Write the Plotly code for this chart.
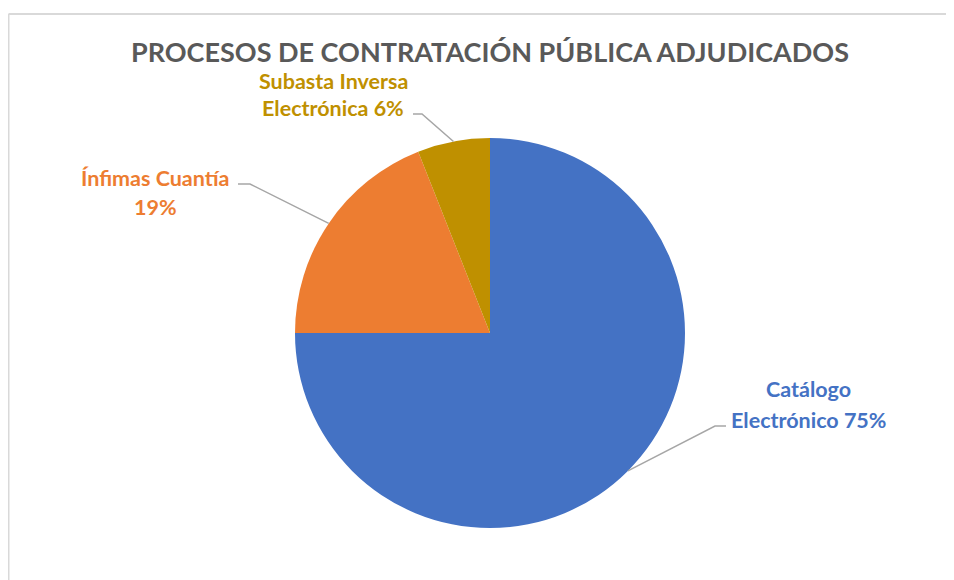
import plotly.graph_objects as go
import math

# ---- data ----
categories = ["Catálogo Electrónico", "Ínfimas Cuantía", "Subasta Inversa Electrónica"]
values = [75, 19, 6]
colors = ["#4472C4", "#ED7D31", "#BF9000"]
wrap_after = [1, 2, 2]  # words on first label line
title_text = "PROCESOS DE CONTRATACIÓN PÚBLICA ADJUDICADOS"

# ---- layout constants (screen pixels; page body has an 8px margin) ----
OFF = 8
W, H = 954 - OFF, 580 - OFF
ML, MR, MT, MB = 92, 74, 130, 52
PW, PH = W - ML - MR, H - MT - MB
CX, CY = ML + PW / 2 + OFF, MT + PH / 2 + OFF   # screen coords
R = min(PW, PH) / 2


def px(x):
    return (x - OFF - ML) / PW


def py(y):
    return (H - MB - (y - OFF)) / PH


# label placement: (center x, first line y, second line y, elbow x, elbow y, text-end x)
label_pos = [
    (808, 389, 420, 715, 426, 726),
    (155, 178, 207, 250, 184, 238),
    (333, 81, 108, 422, 114, 413),
]

fig = go.Figure(
    go.Pie(
        labels=categories,
        values=values,
        sort=False,
        direction="clockwise",
        rotation=0,
        marker=dict(colors=colors, line=dict(color="white", width=0)),
        textinfo="none",
        hoverinfo="label+percent",
        showlegend=False,
    )
)

annotations = []
shapes = []
total = sum(values)
cum = 0
for i, (name, v) in enumerate(zip(categories, values)):
    theta = 2 * math.pi * (cum + v / 2) / total
    cum += v
    ex = CX + R * math.sin(theta)
    ey = CY - R * math.cos(theta)
    lx, ly1, ly2, bx, by, tx = label_pos[i]
    words = name.split(" ")
    pct = round(100 * v / total)
    line1 = " ".join(words[: wrap_after[i]])
    rest = " ".join(words[wrap_after[i]:])
    line2 = (rest + " " if rest else "") + f"{pct}%"
    for txt, yy in ((line1, ly1), (line2, ly2)):
        annotations.append(
            dict(
                x=px(lx), y=py(yy), xref="paper", yref="paper",
                text=f"<b>{txt}</b>", showarrow=False,
                xanchor="center", yanchor="middle",
                font=dict(family="Lato", size=21.5, color=colors[i]),
            )
        )
    shapes.append(
        dict(
            type="path", xref="paper", yref="paper",
            path=f"M {px(ex)} {py(ey)} L {px(bx)} {py(by)} L {px(tx)} {py(by)}",
            line=dict(color="#A6A6A6", width=1.5),
        )
    )

annotations.append(
    dict(
        x=px(490), y=py(51.5), xref="paper", yref="paper",
        text=f"<b>{title_text}</b>", showarrow=False,
        xanchor="center", yanchor="middle",
        font=dict(family="Lato", size=27, color="#595959"),
    )
)

# chart frame
shapes.append(dict(type="line", xref="paper", yref="paper",
                   x0=px(8.5), y0=py(14), x1=px(960), y1=py(14),
                   line=dict(color="#D9D9D9", width=2)))
shapes.append(dict(type="line", xref="paper", yref="paper",
                   x0=px(8.5), y0=py(14), x1=px(8.5), y1=py(590),
                   line=dict(color="#D9D9D9", width=2)))

fig.update_layout(
    width=W, height=H,
    margin=dict(l=ML, r=MR, t=MT, b=MB),
    paper_bgcolor="white", plot_bgcolor="white",
    annotations=annotations, shapes=shapes,
)

fig.write_html("out.html")
